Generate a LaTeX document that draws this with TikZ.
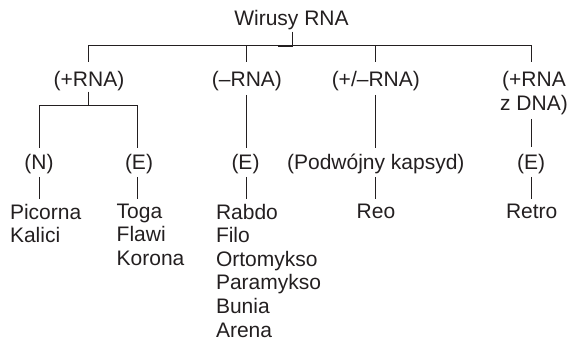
\documentclass[tikz,border=0pt]{standalone}
\usepackage{fontspec}
\setmainfont{Liberation Sans}
\definecolor{ink}{RGB}{35,31,32}
\begin{document}
\begin{tikzpicture}[x=1pt,y=-1pt,
  every node/.style={text=ink, font=\fontsize{21}{23.6}\selectfont},
  lbl/.style={inner sep=0pt, outer sep=0pt, text height=15.3pt, text depth=4.4pt, anchor=base},
  multi/.style={inner sep=0pt, outer sep=0pt, align=center, anchor=north},
  leaf/.style={inner sep=0pt, outer sep=0pt, align=left, anchor=north west},
  ln/.style={draw=ink, line width=1pt}]
\useasboundingbox (0,0) rectangle (579,344);

% nodes
\node[lbl] (root) at (291.5,26) {Wirusy RNA};

\node[lbl] (p)  at (89,86.7)    {(+RNA)};
\node[lbl] (m)  at (247,86.7)   {(–RNA)};
\node[lbl] (pm) at (375.8,86.7) {(+/–RNA)};
\node[multi] (pd) at (534,71.4) {(+RNA\\z DNA)};

\node[lbl] (n)  at (39,169.5)    {(N)};
\node[lbl] (e1) at (139,169.5)   {(E)};
\node[lbl] (e2) at (245.5,169.5) {(E)};
\node[lbl] (pk) at (375.8,169.5) {(Podwójny kapsyd)};
\node[lbl] (e3) at (531,169.5)   {(E)};

\node[leaf] (l1) at (10,203.9)    {Picorna\\Kalici};
\node[leaf] (l2) at (116.7,203.9) {Toga\\Flawi\\Korona};
\node[leaf] (l3) at (216,203.9)   {Rabdo\\Filo\\Ortomykso\\Paramykso\\Bunia\\Arena};
\node[lbl] (l4) at (376,219)      {Reo};
\node[lbl] (l5) at (531.7,219)    {Retro};

% junctions
\coordinate (j0) at (292.7,45.7);
\coordinate (jT) at (278.3,46.2);
\coordinate (jA) at (88.3,45.7);
\coordinate (jB) at (246.3,45.7);
\coordinate (jC) at (375.8,45.7);
\coordinate (jD) at (531.7,45.7);
\coordinate (jP) at (88.3,106);
\coordinate (jN) at (39.3,106);
\coordinate (jE) at (137.7,106);

% connectors
\draw[ln, shorten <=1.3pt] (root.south -| j0) -- (j0);
\draw[ln] (jA) -- (jD);
\draw[ln, line width=2pt] (jT) -- (jT -| j0);
\draw[ln, shorten >=9.7pt] (jA) -- (jA |- p.north);
\draw[ln, shorten >=9.7pt] (jB) -- (jB |- m.north);
\draw[ln, shorten >=9.7pt] (jC) -- (jC |- pm.north);
\draw[ln, shorten >=9.7pt] (jD) -- (jD |- pd.north);

\draw[ln, shorten <=0.6pt] (jP |- p.south) -- (jP);
\draw[ln] (jN) -- (jE);
\draw[ln, shorten >=6.2pt] (jN) -- (jN |- n.north);
\draw[ln, shorten >=6.2pt] (jE) -- (jE |- e1.north);
\draw[ln, shorten <=3.9pt, shorten >=6.2pt] (jB |- m.south) -- (jB |- e2.north);
\draw[ln, shorten <=3.9pt, shorten >=6.2pt] (jC |- pm.south) -- (jC |- pk.north);
\draw[ln, shorten <=4.3pt, shorten >=7.2pt] (jD |- pd.south) -- (jD |- e3.north);

\draw[ln, shorten <=3.1pt, shorten >=4.9pt] (jN |- n.south) -- (jN |- l1.north);
\draw[ln, shorten <=3.1pt, shorten >=4.9pt] (jE |- e1.south) -- (jE |- l2.north);
\draw[ln, shorten <=3.1pt, shorten >=4.9pt] (jB |- e2.south) -- (jB |- l3.north);
\draw[ln, shorten <=3.1pt, shorten >=4.9pt] (jC |- pk.south) -- (jC |- l4.north);
\draw[ln, shorten <=3.1pt, shorten >=4.9pt] (jD |- e3.south) -- (jD |- l5.north);
\end{tikzpicture}
\end{document}
